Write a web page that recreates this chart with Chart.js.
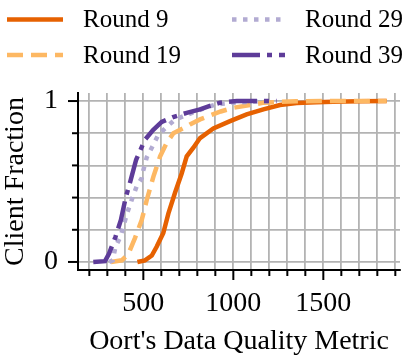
<!DOCTYPE html>
<html>
<head>
<meta charset="utf-8">
<script src="https://cdn.jsdelivr.net/npm/chart.js@4"></script>
<style>
  html, body { margin: 0; padding: 0; background: #fff; }
  #wrap { width: 415px; height: 358px; }
</style>
</head>
<body>
<div id="wrap"><canvas id="cdfChart"></canvas></div>
<script>
// --- Data ---
const seriesNames = ['Round 9', 'Round 19', 'Round 29', 'Round 39'];

const r9X = [467, 509, 547, 574, 611, 639, 676, 713, 741, 778, 815, 889, 982, 1074, 1167, 1259, 1352, 1460, 1555, 1700, 1852];
const r9Y = [0, 0.01, 0.04, 0.094, 0.18, 0.30, 0.43, 0.55, 0.656, 0.71, 0.77, 0.83, 0.875, 0.917, 0.948, 0.975, 0.988, 0.993, 0.996, 0.998, 1.0];

const r19X = [320, 380, 417, 454, 491, 519, 556, 593, 630, 667, 720, 759, 815, 870, 930, 1000, 1093, 1170, 1259, 1350, 1500, 1700, 1852];
const r19Y = [0, 0.01, 0.05, 0.15, 0.26, 0.385, 0.53, 0.656, 0.74, 0.80, 0.83, 0.855, 0.886, 0.91, 0.935, 0.958, 0.975, 0.99, 0.995, 0.998, 1, 1, 1];

const r29X = [310, 330, 345, 373, 409, 440, 463, 491, 500, 519, 547, 583, 630, 676, 778, 850, 908, 1000, 1100, 1230];
const r29Y = [0, 0.01, 0.094, 0.156, 0.30, 0.40, 0.47, 0.52, 0.57, 0.65, 0.71, 0.79, 0.84, 0.885, 0.93, 0.96, 0.98, 0.99, 0.996, 1.0];

const r39X = [222, 287, 309, 345, 375, 402, 430, 460, 509, 554, 602, 665, 741, 815, 870, 926, 1019, 1240];
const r39Y = [0, 0.005, 0.05, 0.155, 0.26, 0.40, 0.51, 0.635, 0.76, 0.82, 0.87, 0.90, 0.927, 0.948, 0.97, 0.99, 1.0, 1.0];

const xTicks = [200, 300, 400, 500, 600, 700, 800, 900, 1000, 1100, 1200, 1300, 1400, 1500, 1600, 1700, 1800, 1900];
const xLabels = [500, 1000, 1500];
const yTicks = [0, 0.2, 0.4, 0.6, 0.8, 1];
const yLabels = [0, 1];

const colors = ['#e66101', '#fdb863', '#b2abd2', '#5e3c99'];
const dashes = [[], [16, 8], [4.5, 6.5], [28, 7, 5, 7]];

const SERIF = '"Liberation Serif", "DejaVu Serif", serif';

function toPoints(xs, ys) {
    return xs.map(function (x, i) { return { x: x, y: ys[i] }; });
}

const allX = [r9X, r19X, r29X, r39X];
const allY = [r9Y, r19Y, r29Y, r39Y];

const datasets = seriesNames.map(function (name, i) {
    return {
        label: name,
        data: toPoints(allX[i], allY[i]),
        borderColor: colors[i],
        borderWidth: 4.5,
        borderDash: dashes[i],
        pointRadius: 0,
        fill: false,
        tension: 0,
        order: 3 - i // later rounds drawn on top
    };
});

// --- Custom tick marks (major / minor lengths) ---
const tickMarks = {
    id: 'tickMarks',
    afterDraw: function (chart) {
        const ctx = chart.ctx;
        const area = chart.chartArea;
        const xs = chart.scales.x, ys = chart.scales.y;
        ctx.save();
        ctx.strokeStyle = '#000';
        ctx.lineWidth = 2;
        xTicks.forEach(function (v) {
            const px = xs.getPixelForValue(v);
            const len = xLabels.indexOf(v) >= 0 ? 10 : 6;
            ctx.beginPath();
            ctx.moveTo(px, area.bottom);
            ctx.lineTo(px, area.bottom + len);
            ctx.stroke();
        });
        yTicks.forEach(function (v) {
            const py = ys.getPixelForValue(v);
            const len = yLabels.indexOf(v) >= 0 ? 10 : 6;
            ctx.beginPath();
            ctx.moveTo(area.left - len, py);
            ctx.lineTo(area.left, py);
            ctx.stroke();
        });
        ctx.restore();
    }
};

// --- Two-column legend on top ---
const topLegend = {
    id: 'topLegend',
    afterDraw: function (chart) {
        const ctx = chart.ctx;
        const spots = [
            { x0: 7, x1: 63, tx: 83, y: 19.5 },
            { x0: 7, x1: 63, tx: 83, y: 55 },
            { x0: 232, x1: 285, tx: 305, y: 19.5 },
            { x0: 232, x1: 285, tx: 305, y: 55 }
        ];
        ctx.save();
        seriesNames.forEach(function (name, i) {
            const s = spots[i];
            ctx.strokeStyle = colors[i];
            ctx.lineWidth = 4.5;
            ctx.setLineDash(dashes[i]);
            ctx.beginPath();
            ctx.moveTo(s.x0, s.y);
            ctx.lineTo(s.x1, s.y);
            ctx.stroke();
            ctx.setLineDash([]);
            ctx.fillStyle = '#000';
            ctx.font = '25px ' + SERIF;
            ctx.textBaseline = 'middle';
            ctx.textAlign = 'left';
            ctx.fillText(name, s.tx, s.y + 1);
        });
        ctx.restore();
    }
};

const ctx = document.getElementById('cdfChart').getContext('2d');
const cdfChart = new Chart(ctx, {
    type: 'line',
    data: { datasets: datasets },
    options: {
        responsive: true,
        maintainAspectRatio: false,
        animation: false,
        layout: { padding: { top: 93, right: 15, left: 0, bottom: 0 } },
        plugins: { legend: { display: false }, tooltip: { enabled: false } },
        scales: {
            x: {
                type: 'linear',
                min: 137,
                max: 1926,
                afterBuildTicks: function (scale) {
                    scale.ticks = xTicks.map(function (v) { return { value: v }; });
                },
                afterFit: function (scale) { scale.height = 88; },
                ticks: {
                    autoSkip: false,
                    maxRotation: 0,
                    padding: 17,
                    color: '#000',
                    font: { family: SERIF, size: 28 },
                    callback: function (v) { return xLabels.indexOf(v) >= 0 ? String(v) : ''; }
                },
                grid: { color: '#b3b3b3', lineWidth: 1.8, drawTicks: false },
                border: { display: true, color: '#000', width: 2 },
                title: {
                    display: true,
                    text: "Oort's Data Quality Metric",
                    color: '#000',
                    font: { family: SERIF, size: 28, lineHeight: 1.1 },
                    padding: { top: 0, bottom: 1 }
                }
            },
            y: {
                type: 'linear',
                min: -0.05,
                max: 1.05,
                afterBuildTicks: function (scale) {
                    scale.ticks = yTicks.map(function (v) { return { value: v }; });
                },
                afterFit: function (scale) { scale.width = 78; },
                ticks: {
                    autoSkip: false,
                    padding: 20,
                    color: '#000',
                    font: { family: SERIF, size: 28 },
                    callback: function (v) { return yLabels.indexOf(v) >= 0 ? String(v) : ''; }
                },
                grid: { color: '#b3b3b3', lineWidth: 1.8, drawTicks: false },
                border: { display: true, color: '#000', width: 2 },
                title: {
                    display: true,
                    text: 'Client Fraction',
                    color: '#000',
                    font: { family: SERIF, size: 28, lineHeight: 1.1 },
                    padding: { top: 0, bottom: 0 }
                }
            }
        }
    },
    plugins: [tickMarks, topLegend]
});
</script>
</body>
</html>
